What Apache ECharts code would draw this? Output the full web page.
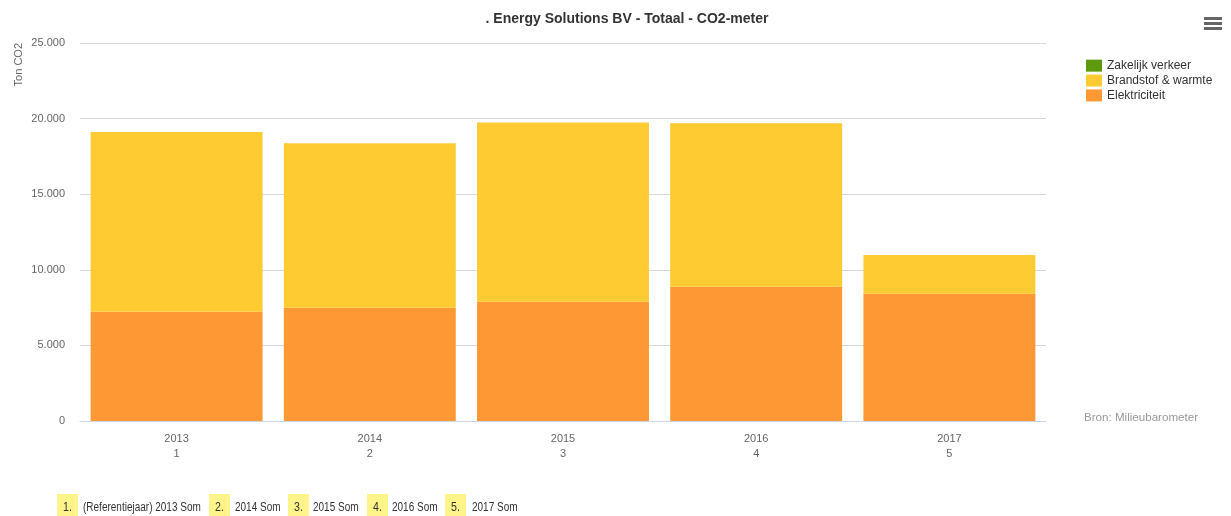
<!DOCTYPE html>
<html><head><meta charset="utf-8">
<script src="https://cdn.jsdelivr.net/npm/echarts@6/dist/echarts.min.js"></script>
<style>html,body{margin:0;padding:0;background:#fff}#c{width:1231px;height:516px}</style>
</head><body><div id="c"></div>
<script>
const years = ['2013','2014','2015','2016','2017'];
const yearIdx = ['1','2','3','4','5'];
const elektriciteit = [7230, 7490, 7890, 8880, 8420];
const brandstof = [11880, 10880, 11850, 10810, 2560];
const zakelijk = [0, 0, 0, 0, 0];
const bottomLabels = ['(Referentiejaar) 2013 Som','2014 Som','2015 Som','2016 Som','2017 Som'];
const yTicks = [0, 5000, 10000, 15000, 20000, 25000];

const FONT = '"Liberation Sans", Arial, sans-serif';
const chart = echarts.init(document.getElementById('c'), null, {renderer:'canvas'});

const bottomPos = [[57,83],[209,235],[288,313],[367,392],[445,472]];
const graphics = [];
bottomLabels.forEach((t,i)=>{
  graphics.push({type:'rect', left:bottomPos[i][0], top:494, shape:{width:21,height:22}, style:{fill:'#FFF48A'}});
  graphics.push({type:'text', x:bottomPos[i][0]+6, y:501, scaleX:0.85, style:{text:(i+1)+'.', fill:'#333', font:'12.5px '+FONT, verticalAlign:'top'}});
  graphics.push({type:'text', x:bottomPos[i][1], y:501, scaleX:0.8, style:{text:t, fill:'#333', font:'12.5px '+FONT, verticalAlign:'top'}});
});
[0,5,10].forEach(d=>graphics.push({type:'rect', left:1204, top:17+d, shape:{width:18,height:3}, style:{fill:'#666'}}));
graphics.push({type:'text', left:1084, top:412, style:{text:'Bron: Milieubarometer', fill:'#999', font:'11.6px '+FONT}});

chart.setOption({
  animation:false,
  textStyle:{fontFamily:FONT},
  title:{text:'. Energy Solutions BV - Totaal - CO2-meter', left:622, textAlign:'center', top:7,
    textStyle:{fontSize:14, fontWeight:'bold', color:'#333', fontFamily:FONT}},
  legend:{orient:'vertical', left:1081, top:54, itemWidth:16, itemHeight:12, itemGap:1.6,
    data:['Zakelijk verkeer','Brandstof & warmte','Elektriciteit'],
    textStyle:{fontSize:12, lineHeight:13.3, color:'#333', fontFamily:FONT, padding:[0,0,0,0]}, icon:'rect'},
  grid:{left:80, right:185, top:43, bottom:95, containLabel:false},
  xAxis:{type:'category', data:years.map((y,i)=>y+'\n'+yearIdx[i]),
    axisLine:{lineStyle:{color:'#ccd6eb'}}, axisTick:{length:10, lineStyle:{color:'#ccd6eb'}},
    axisLabel:{color:'#666', fontSize:11, margin:10, lineHeight:15, fontFamily:FONT}},
  yAxis:{type:'value', min:yTicks[0], max:yTicks[yTicks.length-1], interval:5000,
    name:'Ton CO2', nameLocation:'end', nameRotate:90, nameGap:0,
    nameTextStyle:{color:'#666', fontSize:11, fontFamily:FONT, align:'right', verticalAlign:'bottom', padding:[0,0,56,0]},
    axisLabel:{color:'#666', fontSize:11, margin:15, fontFamily:FONT,
      formatter:v=>v===0?'0':(v/1000).toFixed(0)+'.000'},
    splitLine:{lineStyle:{color:'#d8d8d8'}}, axisLine:{show:false}, axisTick:{show:false}},
  series:[
    {name:'Elektriciteit', type:'bar', stack:'t', data:elektriciteit, itemStyle:{color:'#FD9935'}, barCategoryGap:'11%'},
    {name:'Brandstof & warmte', type:'bar', stack:'t', data:brandstof, itemStyle:{color:'#FECB33'}},
    {name:'Zakelijk verkeer', type:'bar', stack:'t', data:zakelijk, itemStyle:{color:'#5D9A0D'}}
  ],
  graphic:graphics
});
</script></body></html>
